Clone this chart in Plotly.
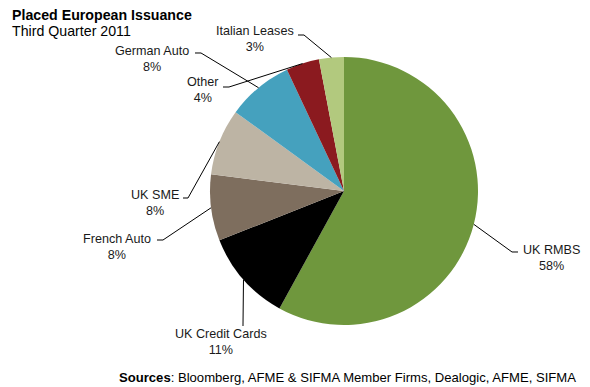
import math
import plotly.graph_objects as go

# Placed European issuance, Q3 2011 (share of total, %)
categories = ["UK RMBS", "UK Credit Cards", "French Auto", "UK SME",
              "German Auto", "Other", "Italian Leases"]
shares = [58, 11, 8, 8, 8, 4, 3]
colors = ["#6F973D", "#000000", "#7E6E5E", "#BDB4A4",
          "#45A1BE", "#8B1A1F", "#B2C97E"]

W, H = 590, 387
CX, CY, R = 344, 191, 134  # pie centre / radius in pixels
FONT = "Liberation Sans, Arial"


def px(x):
    return x / W


def py(y):
    return 1 - y / H


# label anchor (text centre) and elbow of the leader line, in pixels
label_pos = {
    "UK RMBS": (551, 258, 518, 252, 512),
    "UK Credit Cards": (221, 342, 243, 326, 243),
    "French Auto": (117, 247, 157, 240, 163),
    "UK SME": (155, 203, 183, 198, 188),
    "German Auto": (152, 59, 195, 53, 201),
    "Other": (203, 90, 223, 87, 229),
    "Italian Leases": (255, 39, 298, 35, 304),
}

fig = go.Figure(go.Pie(
    labels=categories,
    values=shares,
    sort=False,
    direction="clockwise",
    rotation=0,
    marker=dict(colors=colors, line=dict(width=0)),
    textinfo="none",
    hoverinfo="label+percent",
    showlegend=False,
    domain=dict(x=[px(CX - R), px(CX + R)], y=[py(CY + R), py(CY - R)]),
))

shapes = []
annotations = []
total = sum(shares)
cum = 0
for name, v in zip(categories, shares):
    mid = (cum + v / 2) / total * 2 * math.pi
    cum += v
    ax = CX + R * math.sin(mid)
    ay = CY - R * math.cos(mid)
    tx, ty, ex, ey, ex2 = label_pos[name]
    path = (f"M {px(ex):.5f} {py(ey):.5f} L {px(ex2):.5f} {py(ey):.5f} "
            f"L {px(ax):.5f} {py(ay):.5f}")
    shapes.append(dict(type="path", xref="paper", yref="paper", path=path,
                       line=dict(color="black", width=1)))
    annotations.append(dict(
        x=px(tx), y=py(ty), xref="paper", yref="paper",
        text=f"{name}<br>{v}%", showarrow=False, align="center",
        xanchor="center", yanchor="middle",
        font=dict(family=FONT, size=12.6, color="#1a1a1a"),
    ))

annotations += [
    dict(x=px(10), y=py(5), xref="paper", yref="paper", xanchor="left",
         yanchor="top", showarrow=False,
         text="<b>Placed European Issuance</b>",
         font=dict(family=FONT, size=14.2, color="black")),
    dict(x=px(10), y=py(21), xref="paper", yref="paper", xanchor="left",
         yanchor="top", showarrow=False, text="Third Quarter 2011",
         font=dict(family=FONT, size=14.2, color="black")),
    dict(x=px(578), y=py(377), xref="paper", yref="paper", xanchor="right",
         yanchor="middle", showarrow=False,
         text="<b>Sources</b>: Bloomberg, AFME &amp; SIFMA Member Firms, Dealogic, AFME, SIFMA",
         font=dict(family=FONT, size=13.1, color="black")),
]

fig.update_layout(
    width=W, height=H,
    margin=dict(l=0, r=0, t=0, b=0),
    paper_bgcolor="white", plot_bgcolor="white",
    shapes=shapes, annotations=annotations,
)

fig.write_html("out.html")
